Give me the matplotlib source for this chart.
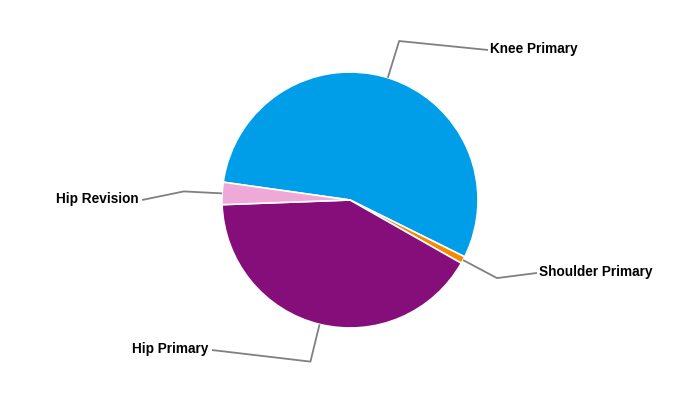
import numpy as np
import matplotlib.pyplot as plt

# dados (percentual de cada tipo de procedimento)
categorias = ['Knee Primary', 'Shoulder Primary', 'Hip Primary', 'Hip Revision']
valores = [55.1, 0.9, 41.2, 2.8]
cores = ['#009EE9', '#F78800', '#860E7A', '#EFA9D8']

# posicao do fim da linha de cada rotulo (em raios do grafico)
pos_rotulos = [(1.078, 1.172), (1.461, -0.570), (-1.078, -1.172), (-1.625, 0.0)]

fig = plt.figure(figsize=(7, 4), dpi=100)
ax = fig.add_axes([0, 0, 1, 1])

wedges, _ = ax.pie(valores, colors=cores, startangle=172, counterclock=False,
                   radius=1.0, center=(0, 0),
                   wedgeprops=dict(edgecolor='white', linewidth=1.2))

for w, nome, (lx, ly) in zip(wedges, categorias, pos_rotulos):
    ang = np.deg2rad((w.theta1 + w.theta2) / 2)
    # ponto na borda e cotovelo da linha
    x0, y0 = np.cos(ang), np.sin(ang)
    x1, y1 = 1.3 * np.cos(ang), 1.3 * np.sin(ang)
    ax.plot([x0, x1, lx], [y0, y1, ly], color='#808080', lw=1.3,
            solid_capstyle='butt', zorder=1)
    if lx > 0:
        ax.text(lx + 0.015, ly + 0.01, nome, ha='left', va='center',
                fontsize=9.8, fontweight='bold', family='Liberation Sans')
    else:
        ax.text(lx - 0.03, ly + 0.01, nome, ha='right', va='center',
                fontsize=9.8, fontweight='bold', family='Liberation Sans')

ax.set_xlim(-350 / 128, 350 / 128)
ax.set_ylim(-200 / 128, 200 / 128)
ax.set_aspect('equal')
ax.axis('off')

plt.savefig('out.png', dpi=100)
